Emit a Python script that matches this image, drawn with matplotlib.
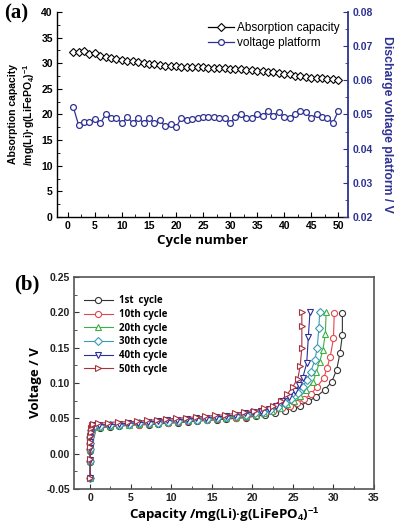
import matplotlib
matplotlib.use("Agg")
import matplotlib.pyplot as plt
from matplotlib.ticker import MultipleLocator

plt.rcParams["mathtext.fontset"] = "custom"
plt.rcParams["mathtext.rm"] = "Liberation Sans:bold"
plt.rcParams["mathtext.it"] = "Liberation Sans:bold"
plt.rcParams["mathtext.bf"] = "Liberation Sans:bold"

# ---- panel (a) data ----
cycles = list(range(1, 51))
absorption = [32.2, 32.2, 32.4, 31.8, 31.9, 31.4, 31.3, 31.0, 30.8, 30.7,
              30.5, 30.4, 30.2, 30.1, 29.9, 29.8, 29.6, 29.5, 29.4, 29.4,
              29.3, 29.3, 29.3, 29.2, 29.2, 29.1, 29.1, 29.0, 29.0, 28.9,
              28.9, 28.8, 28.7, 28.6, 28.5, 28.4, 28.3, 28.2, 28.1, 27.9,
              27.8, 27.6, 27.5, 27.3, 27.1, 27.2, 27.1, 27.0, 26.9, 26.7]
platform = [0.0522, 0.0469, 0.0478, 0.0478, 0.0487, 0.0475, 0.0500, 0.0490, 0.0490, 0.0475,
            0.0492, 0.0475, 0.0490, 0.0475, 0.0490, 0.0475, 0.0484, 0.0465, 0.0472, 0.0462,
            0.0490, 0.0483, 0.0487, 0.0490, 0.0492, 0.0492, 0.0492, 0.0490, 0.0490, 0.0475,
            0.0492, 0.0500, 0.0490, 0.0490, 0.0500, 0.0497, 0.0510, 0.0497, 0.0508, 0.0492,
            0.0490, 0.0500, 0.0510, 0.0508, 0.0490, 0.0500, 0.0492, 0.0490, 0.0475, 0.0510]

# ---- panel (b) data: voltage vs capacity ----
x_1st = [0, 0, 0, 0, 0, 0.05, 0.1, 0.2, 0.4, 1.2, 2.4, 3.6, 4.8, 6.0, 7.2, 8.4, 9.6, 10.8,
         12.0, 13.2, 14.4, 15.6, 16.8, 18.0, 19.2, 20.4, 21.6, 22.8, 24.0, 25.0, 25.9,
         26.9, 27.8, 28.9, 29.8, 30.4, 30.8, 31.1, 31.1]
v_1st = [-0.034, -0.012, 0.004, 0.012, 0.020, 0.026, 0.031, 0.034, 0.036, 0.037, 0.038,
         0.039, 0.040, 0.041, 0.041, 0.042, 0.043, 0.044, 0.045, 0.046, 0.047, 0.048, 0.049,
         0.050, 0.051, 0.053, 0.055, 0.058, 0.061, 0.064, 0.068, 0.074, 0.080, 0.090, 0.102,
         0.119, 0.142, 0.168, 0.199]
x_10th = [0, 0, 0, 0, 0, 0.05, 0.1, 0.2, 0.4, 1.2, 2.4, 3.6, 4.8, 6.0, 7.2, 8.4, 9.6, 10.8,
          12.0, 13.2, 14.4, 15.6, 16.8, 18.0, 19.2, 20.4, 21.5, 22.5, 23.6, 24.6, 25.5,
          26.4, 27.2, 28.0, 28.8, 29.2, 29.6, 30.0, 30.1]
v_10th = [-0.034, -0.011, 0.005, 0.013, 0.021, 0.027, 0.032, 0.035, 0.037, 0.038, 0.039,
          0.040, 0.041, 0.041, 0.042, 0.043, 0.044, 0.045, 0.046, 0.047, 0.048, 0.049, 0.050,
          0.051, 0.052, 0.054, 0.057, 0.060, 0.064, 0.068, 0.072, 0.077, 0.084, 0.095, 0.107,
          0.121, 0.137, 0.163, 0.199]
x_20th = [0, 0, 0, 0, 0, 0.05, 0.1, 0.2, 0.4, 1.2, 2.4, 3.6, 4.8, 6.0, 7.2, 8.4, 9.6, 10.8,
          12.0, 13.2, 14.4, 15.6, 16.8, 18.0, 19.2, 20.4, 21.4, 22.4, 23.4, 24.3, 25.1,
          25.9, 26.6, 27.5, 27.9, 28.3, 28.7, 29.0, 29.1]
v_20th = [-0.034, -0.010, 0.006, 0.014, 0.022, 0.028, 0.033, 0.036, 0.038, 0.038, 0.039,
          0.040, 0.041, 0.042, 0.043, 0.044, 0.045, 0.046, 0.047, 0.048, 0.049, 0.050, 0.051,
          0.052, 0.053, 0.055, 0.058, 0.061, 0.065, 0.070, 0.075, 0.081, 0.090, 0.102, 0.116,
          0.130, 0.147, 0.170, 0.200]
x_30th = [0, 0, 0, 0, 0, 0.05, 0.1, 0.2, 0.4, 1.2, 2.4, 3.6, 4.8, 6.0, 7.2, 8.4, 9.6, 10.8,
          12.0, 13.2, 14.4, 15.6, 16.8, 18.0, 19.2, 20.3, 21.3, 22.2, 23.2, 24.0, 24.8,
          25.6, 26.2, 26.7, 27.2, 27.7, 28.0, 28.2, 28.3]
v_30th = [-0.034, -0.010, 0.007, 0.015, 0.023, 0.029, 0.034, 0.037, 0.038, 0.039, 0.040,
          0.041, 0.042, 0.043, 0.043, 0.044, 0.045, 0.046, 0.047, 0.048, 0.049, 0.050, 0.052,
          0.053, 0.055, 0.057, 0.059, 0.062, 0.066, 0.072, 0.078, 0.086, 0.095, 0.104, 0.116,
          0.132, 0.150, 0.178, 0.200]
x_40th = [0, 0, 0, 0, 0, 0.05, 0.1, 0.2, 0.4, 1.1, 2.3, 3.5, 4.7, 5.9, 7.1, 8.3, 9.5, 10.7,
          11.9, 13.1, 14.3, 15.5, 16.7, 17.9, 19.1, 20.1, 21.1, 22.0, 22.9, 23.7, 24.5,
          25.2, 25.8, 26.2, 26.7, 26.9, 27.1]
v_40th = [-0.034, -0.009, 0.008, 0.016, 0.024, 0.030, 0.035, 0.038, 0.040, 0.041, 0.041,
          0.042, 0.043, 0.044, 0.045, 0.046, 0.047, 0.048, 0.049, 0.050, 0.051, 0.052, 0.053,
          0.055, 0.057, 0.059, 0.061, 0.063, 0.068, 0.074, 0.080, 0.088, 0.097, 0.107, 0.128,
          0.165, 0.200]
x_50th = [0, 0, 0, 0, 0, 0.05, 0.1, 0.2, 0.4, 1.0, 2.2, 3.4, 4.6, 5.8, 7.0, 8.2, 9.4, 10.6,
          11.8, 13.0, 14.2, 15.4, 16.6, 17.8, 19.0, 20.2, 21.4, 22.5, 23.5, 24.3, 25.0,
          25.6, 25.9, 26.1, 26.1, 26.1]
v_50th = [-0.034, -0.008, 0.009, 0.017, 0.025, 0.031, 0.036, 0.040, 0.042, 0.043, 0.044,
          0.045, 0.045, 0.046, 0.047, 0.048, 0.049, 0.050, 0.051, 0.052, 0.053, 0.054, 0.055,
          0.057, 0.059, 0.061, 0.064, 0.068, 0.075, 0.084, 0.095, 0.106, 0.124, 0.150, 0.180,
          0.200]

cycle_x = [x_1st, x_10th, x_20th, x_30th, x_40th, x_50th]
cycle_v = [v_1st, v_10th, v_20th, v_30th, v_40th, v_50th]
cycle_labels = ["1st  cycle", "10th cycle", "20th cycle", "30th cycle", "40th cycle", "50th cycle"]
cycle_colors = ["#333333", "#e0474c", "#3cb043", "#3a9bb5", "#2a2f9a", "#a8323e"]
cycle_markers = ["o", "o", "^", "D", "v", ">"]

NAVY = "#2e3192"
TICKFONT = dict(family="Liberation Sans", weight="bold", size=7.5)

fig = plt.figure(figsize=(4.0, 5.25), dpi=100)

# ================= panel (a) =================
ax1 = fig.add_axes([0.1425, 0.5867, 0.7275, 0.3905])
ax2 = ax1.twinx()

l1, = ax1.plot(cycles, absorption, color="black", lw=0.9, marker="D", ms=4.2,
               mfc="white", mec="black", mew=0.8, label="Absorption capacity")
l2, = ax2.plot(cycles, platform, color=NAVY, lw=0.9, marker="o", ms=4.2,
               mfc="white", mec=NAVY, mew=0.9, label="voltage platform")

ax1.set_xlim(-2, 51.8)
ax1.set_ylim(0, 40)
ax2.set_ylim(0.02, 0.08)
ax1.xaxis.set_major_locator(MultipleLocator(5))
ax1.xaxis.set_minor_locator(MultipleLocator(2.5))
ax1.yaxis.set_major_locator(MultipleLocator(5))
ax1.yaxis.set_minor_locator(MultipleLocator(2.5))
ax2.yaxis.set_major_locator(MultipleLocator(0.01))
ax2.yaxis.set_minor_locator(MultipleLocator(0.005))

for ax in (ax1, ax2):
    ax.spines["top"].set_visible(False)
ax1.spines["right"].set_visible(False)
ax2.spines["left"].set_visible(False)
ax2.spines["bottom"].set_visible(False)
ax2.spines["right"].set_color(NAVY)
ax2.spines["right"].set_linewidth(1.3)
ax1.spines["left"].set_linewidth(1.0)
ax1.spines["bottom"].set_linewidth(1.0)

ax1.tick_params(which="both", direction="in", top=False, right=False)
ax1.tick_params(which="major", length=3.5, width=0.8, pad=3)
ax1.tick_params(which="minor", length=2, width=0.6)
ax2.tick_params(which="both", direction="in", colors=NAVY)
ax2.tick_params(which="major", length=3.5, width=0.8, pad=3)
ax2.tick_params(which="minor", length=2, width=0.6)

for lab in ax1.get_xticklabels() + ax1.get_yticklabels():
    lab.set_fontproperties(matplotlib.font_manager.FontProperties(**TICKFONT))
for lab in ax2.get_yticklabels():
    lab.set_fontproperties(matplotlib.font_manager.FontProperties(**TICKFONT))
    lab.set_color(NAVY)

ax1.set_xlabel("Cycle number", family="Open Sans", weight="bold", size=9.5, labelpad=2)
ax1.set_ylabel("Absorption capacity\n/mg(Li)·g(LiFePO$_4$)$^{-1}$",
               family="Liberation Sans", weight="bold", size=7.5, labelpad=3,
               linespacing=1.3)
ax2.set_ylabel("Discharge voltage platform / V", family="Liberation Sans",
               weight="bold", size=8.8, color=NAVY, rotation=270, labelpad=12)
ax2.yaxis.set_label_coords(1.155, 0.45)

ax1.legend(handles=[l1, l2], loc="upper right", bbox_to_anchor=(1.0, 0.99),
           frameon=False, prop=dict(family="Liberation Sans", size=8.5),
           handlelength=2.2, handletextpad=0.3, borderaxespad=0.3, labelspacing=0.2)

fig.text(0.01, 0.975, "(a)", family="Liberation Serif", weight="bold", size=15,
         va="center", ha="left")

# ================= panel (b) =================
axb = fig.add_axes([0.185, 0.0686, 0.75, 0.4038])
for xs, vs, lab, col, mk in zip(cycle_x, cycle_v, cycle_labels, cycle_colors, cycle_markers):
    axb.plot(xs, vs, color=col, lw=0.8, marker=mk, ms=4.4 if mk != "D" else 3.8,
             mfc="white", mec=col, mew=0.8, label=lab)

axb.set_xlim(-2, 35)
axb.set_ylim(-0.05, 0.25)
axb.xaxis.set_major_locator(MultipleLocator(5))
axb.xaxis.set_minor_locator(MultipleLocator(2.5))
axb.yaxis.set_major_locator(MultipleLocator(0.05))
axb.yaxis.set_minor_locator(MultipleLocator(0.025))
for sp in axb.spines.values():
    sp.set_color("#555555")
    sp.set_linewidth(1.2)
axb.tick_params(which="both", direction="in", top=False, right=False, colors="#333333")
axb.tick_params(which="major", length=3.5, width=0.8, pad=3)
axb.tick_params(which="minor", length=2, width=0.6)
for lab in axb.get_xticklabels() + axb.get_yticklabels():
    lab.set_fontproperties(matplotlib.font_manager.FontProperties(**TICKFONT))
    lab.set_color("#222222")
axb.yaxis.set_major_formatter(matplotlib.ticker.FormatStrFormatter("%.2f"))

axb.set_xlabel("Capacity /mg(Li)·g(LiFePO$_4$)$^{-1}$", family="Open Sans",
               weight="bold", size=9.5, labelpad=2)
axb.set_ylabel("Voltage / V", family="Open Sans", weight="bold", size=9.5, labelpad=3)

axb.legend(loc="upper left", bbox_to_anchor=(0.0, 0.96), frameon=False,
           prop=dict(family="Open Sans", weight="bold", size=7),
           handlelength=3.0, handletextpad=0.6, labelspacing=0.28, borderaxespad=0.6)

fig.text(0.035, 0.458, "(b)", family="Liberation Serif", weight="bold", size=15,
         va="center", ha="left")

fig.savefig("out.png", dpi=100)
